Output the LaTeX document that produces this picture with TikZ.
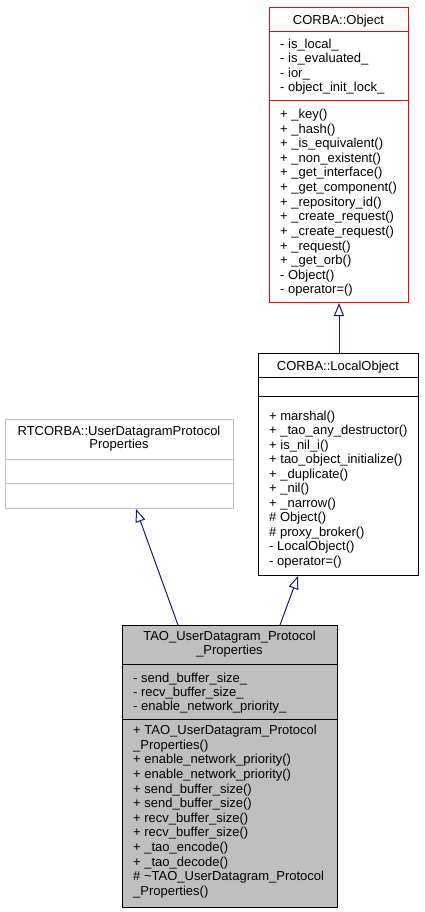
\documentclass[tikz,border=0pt]{standalone}
\usepackage{fontspec}
\setmainfont{Liberation Sans}
\usetikzlibrary{arrows.meta}
\definecolor{edgeblue}{HTML}{191970}
\definecolor{boxgray}{HTML}{BFBFBF}
\definecolor{boxred}{HTML}{FF0000}
\tikzset{
  umlbox/.style={draw=black, line width=1pt, fill=white, inner sep=0pt, anchor=north west},
  sepline/.style={line width=1pt},
  txt/.style={inner sep=0pt, anchor=base west, font=\fontsize{13}{14.6}\selectfont},
  hdr/.style={inner sep=0pt, anchor=base, font=\fontsize{13}{14.6}\selectfont},
  inherit/.style={draw=edgeblue, line width=1pt, -{Triangle[length=13pt,width=10pt,fill=white]}},
}
\begin{document}
\begin{tikzpicture}[x=1pt,y=-1pt]
\useasboundingbox (0,0) rectangle (424,912);

% ---------- CORBA::Object ----------
\node[umlbox, draw=boxred, minimum width=139pt, minimum height=295pt] (obj) at (269,7) {};
\draw[sepline, boxred] (269,32) -- (408,32);
\draw[sepline, boxred] (269,101) -- (408,101);
\node[hdr] (objh) at (338.5,24.2) {CORBA::Object};
\foreach \t [count=\i] in {- is\_local\_, - is\_evaluated\_, - ior\_, - object\_init\_lock\_}
  \node[txt] (oa\i) at (280,{48.2+14.6*(\i-1)}) {\t};
\foreach \t [count=\i] in {+ \_key(), + \_hash(), + \_is\_equivalent(), + \_non\_existent(),
  + \_get\_interface(), + \_get\_component(), + \_repository\_id(), + \_create\_request(),
  + \_create\_request(), + \_request(), + \_get\_orb(), - Object(), - operator=()}
  \node[txt] (om\i) at (280,{118.4+14.63*(\i-1)}) {\t};

% ---------- CORBA::LocalObject ----------
\node[umlbox, minimum width=160pt, minimum height=222pt] (lo) at (258,353) {};
\draw[sepline] (258,377.7) -- (418,377.7);
\draw[sepline] (258,396) -- (418,396);
\node[hdr] (loh) at (338,370.3) {CORBA::LocalObject};
\foreach \t [count=\i] in {+ marshal(), + \_tao\_any\_destructor(), + is\_nil\_i(),
  + tao\_object\_initialize(), + \_duplicate(), + \_nil(), + \_narrow(), \# Object(),
  \# proxy\_broker(), - LocalObject(), - operator=()}
  \node[txt] (lm\i) at (269,{420.4+14.5*(\i-1)}) {\t};

% ---------- RTCORBA::UserDatagramProtocolProperties ----------
\node[umlbox, draw=boxgray, minimum width=228pt, minimum height=89pt] (rt) at (5,419) {};
\draw[sepline, boxgray] (5,459) -- (233,459);
\draw[sepline, boxgray] (5,483) -- (233,483);
\node[hdr] (rth1) at (119,435.2) {RTCORBA::UserDatagramProtocol};
\node[hdr] (rth2) at (119,448.7) {Properties};

% ---------- TAO_UserDatagram_Protocol_Properties ----------
\node[umlbox, fill=boxgray, minimum width=215pt, minimum height=282pt] (tao) at (122,625) {};
\draw[sepline] (122,664) -- (337,664);
\draw[sepline] (122,719) -- (337,719);
\node[hdr] (taoh1) at (229.5,640.7) {TAO\_UserDatagram\_Protocol};
\node[hdr] (taoh2) at (229.5,654.2) {\_Properties};
\foreach \t [count=\i] in {- send\_buffer\_size\_, - recv\_buffer\_size\_, - enable\_network\_priority\_}
  \node[txt] (ta\i) at (133,{682.0+14.2*(\i-1)}) {\t};
\foreach \t [count=\i] in {+ TAO\_UserDatagram\_Protocol, \_Properties(),
  + enable\_network\_priority(), + enable\_network\_priority(), + send\_buffer\_size(),
  + send\_buffer\_size(), + recv\_buffer\_size(), + recv\_buffer\_size(), + \_tao\_encode(),
  + \_tao\_decode(), \# \textasciitilde TAO\_UserDatagram\_Protocol, \_Properties()}
  \node[txt] (tm\i) at (133,{734.7+14.6*(\i-1)}) {\t};

% ---------- inheritance connectors ----------
\draw[inherit] ([xshift=81pt]lo.north west) -- ([xshift=70pt]obj.south west);
\draw[inherit] ([xshift=56pt]tao.north west) -- ([xshift=131pt]rt.south west);
\draw[inherit] ([xshift=158pt]tao.north west) -- ([xshift=40pt]lo.south west);
\end{tikzpicture}
\end{document}
